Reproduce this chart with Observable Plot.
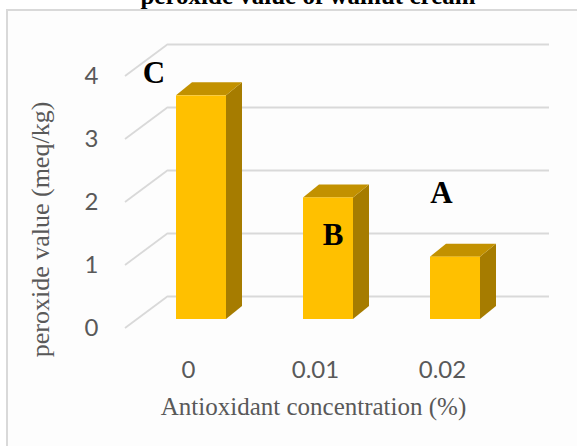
<!DOCTYPE html>
<html><head><meta charset="utf-8">
<script src="https://cdn.jsdelivr.net/npm/d3@7"></script>
<script src="https://cdn.jsdelivr.net/npm/@observablehq/plot@0.6"></script>
<style>
html,body{margin:0;padding:0;background:#fff;}
#wrap{position:relative;width:577px;height:446px;overflow:hidden;}
#frame{position:absolute;left:6px;top:9px;width:640px;height:520px;border-left:2px solid #d9d9d9;border-top:2px solid #d9d9d9;background:#fdfdfd;}
#title{position:absolute;left:0;width:616px;top:-18px;line-height:25px;text-align:center;font:bold 25px "Liberation Serif",serif;color:#000;}
#chart{position:absolute;left:0;top:0;}
</style></head><body>
<div id="wrap"><div id="frame"></div><div id="chart"></div><div id="title">peroxide value of walnut cream</div></div>
<script>
// ---- data ----
const categories = ["0", "0.01", "0.02"];
const values = [3.55, 1.93, 0.99];
const letters = ["C", "B", "A"];
const yTicks = [0, 1, 2, 3, 4];
const xTitle = "Antioxidant concentration (%)";
const yTitle = "peroxide value (meq/kg)";

// ---- layout (pixels) ----
const WALL = {dx: 43, dy: -32};      // back wall offset from front floor
const FACE = {dx: 13, dy: -9};       // bar front-face plane offset
const DEPTH = {dx: 16, dy: -13};     // bar depth
const letterOffsets = [{dx: -34.5, dy: -32}, {dx: 17.5, dy: 28}, {dx: -1, dy: -73}];

const data = categories.map((c, i) => ({cat: c, value: values[i], letter: letters[i]}));

function diagonals(index, scales, vals, dims) {
  const g = d3.create("svg:g");
  const x0 = dims.marginLeft;
  for (const i of index) {
    const y = scales.y(yTicks[i]);
    g.append("line")
      .attr("x1", x0).attr("y1", y)
      .attr("x2", x0 + WALL.dx).attr("y2", y + WALL.dy)
      .attr("stroke", "#d9d9d9").attr("stroke-width", 1.8);
  }
  return g.node();
}

function bars3d(index, scales) {
  const x = scales.x, y = scales.y;
  const bw = typeof x.bandwidth === "function" ? x.bandwidth() : 50;
  const g = d3.create("svg:g");
  const poly = pts => "M" + pts.map(p => p.join(",")).join("L") + "Z";
  for (const i of index) {
    const d = data[i];
    const xa = x(d.cat) + FACE.dx, xb = xa + bw;
    const yb = y(0) + FACE.dy, yt = y(d.value) + FACE.dy;
    g.append("path").attr("d", poly([[xb, yt], [xb + DEPTH.dx, yt + DEPTH.dy], [xb + DEPTH.dx, yb + DEPTH.dy], [xb, yb]]))
      .attr("fill", "#A67C00");
    g.append("path").attr("d", poly([[xa, yt], [xb, yt], [xb + DEPTH.dx, yt + DEPTH.dy], [xa + DEPTH.dx, yt + DEPTH.dy]]))
      .attr("fill", "#C29100");
    g.append("rect").attr("x", xa).attr("y", yt).attr("width", bw).attr("height", yb - yt)
      .attr("fill", "#FFC000");
  }
  return g.node();
}

const chart = Plot.plot({
  width: 577, height: 446,
  marginLeft: 125, marginRight: 71, marginTop: 76, marginBottom: 118,
  x: {domain: categories, paddingInner: 0.606, paddingOuter: 0.303, axis: null},
  y: {domain: [0, 4], axis: null},
  style: {background: "transparent", fontFamily: "Lato", fontSize: "24px", color: "#595959", overflow: "visible"},
  marks: [
    Plot.ruleY(yTicks, {stroke: "#d9d9d9", strokeWidth: 1.8, dx: WALL.dx, dy: WALL.dy}),
    Plot.ruleY(yTicks, {y: d => d, render: diagonals}),
    Plot.barY(data, {x: "cat", y: "value", render: bars3d}),
    Plot.axisY(yTicks, {tickSize: 0, tickPadding: 27, tickFormat: d => String(d), label: null}),
    Plot.axisX({tickSize: 0, tickPadding: 32, label: null}),
    ...letterOffsets.map((o, i) => Plot.text([data[i]], {
      x: "cat", y: "value", text: "letter", dx: o.dx, dy: o.dy,
      fontFamily: "Liberation Serif", fontWeight: "bold", fontSize: 31, fill: "#000"
    })),
    Plot.text([xTitle], {frameAnchor: "bottom", textAnchor: "middle", dx: -2.5, dy: 86, fontFamily: "Liberation Serif", fontSize: 25, fill: "#595959"}),
    Plot.text([yTitle], {frameAnchor: "left", textAnchor: "middle", rotate: -90, dx: -85, dy: 27, fontFamily: "Liberation Serif", fontSize: 26, fill: "#595959"})
  ]
});
document.getElementById("chart").appendChild(chart);
</script>
</body></html>
